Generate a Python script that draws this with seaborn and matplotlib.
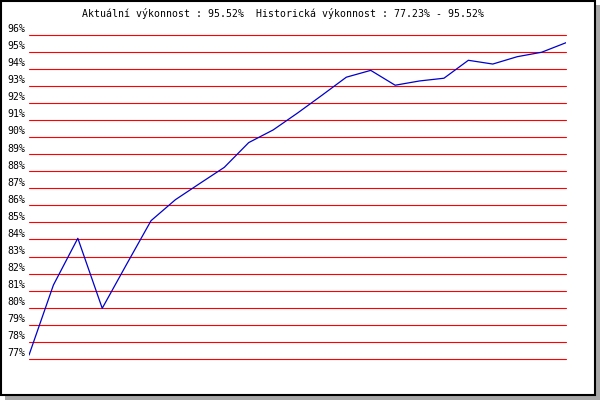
import matplotlib
matplotlib.use("Agg")
import matplotlib.pyplot as plt
import matplotlib.transforms as mtransforms
from matplotlib.patches import Rectangle
import seaborn as sns
import pandas as pd

title_text = "Aktuální výkonnost : 95.52%  Historická výkonnost : 77.23% - 95.52%"
performance = [77.23, 81.33, 84.07, 79.97, 82.55, 85.10, 86.33, 87.28, 88.22, 89.67,
               90.41, 91.40, 92.44, 93.50, 93.90, 93.03, 93.28, 93.44, 94.49, 94.27,
               94.70, 94.96, 95.52]
y_ticks = list(range(77, 97))
y_tick_labels = [f"{v}%" for v in y_ticks]

df = pd.DataFrame({"i": range(len(performance)), "v": performance})

sns.set_style("white")
plt.rcParams["font.family"] = ["DejaVu Sans Mono", "DejaVu Sans"]

fig = plt.figure(figsize=(6, 4), dpi=100)
fig.patch.set_facecolor("white")

W, H = 600.0, 400.0
# shadow
fig.add_artist(Rectangle((5 / W, 0), 595 / W, 395 / H, transform=fig.transFigure,
                         facecolor="#a8a8a8", edgecolor="none", zorder=-2))
# framed white box
fig.add_artist(Rectangle((1 / W, 5 / H), 594 / W, 394 / H, transform=fig.transFigure,
                         facecolor="white", edgecolor="black", linewidth=1.5, zorder=-1))

left, right = 29 / W, 566 / W
top, bottom = 1 - 34.5 / H, 1 - 359 / H
ax = fig.add_axes([left, bottom, right - left, top - bottom])
ax.set_facecolor("none")
ax.set_zorder(1)

sns.lineplot(data=df, x="i", y="v", ax=ax, color="#0000CC", linewidth=0.9, zorder=3)

ax.set_xlim(0, len(performance) - 1)
ax.set_ylim(77, 96)
ax.set_yticks(y_ticks)
ax.set_yticklabels(y_tick_labels, fontsize=7.1, color="black", va="baseline")
ax.set_xticks([])
ax.set_xlabel("")
ax.set_ylabel("")
for s in ax.spines.values():
    s.set_visible(False)
ax.tick_params(axis="y", length=0, pad=2.5)
ax.grid(axis="y", color="#FF0000", linewidth=0.8)
ax.set_axisbelow(True)
for gl in ax.get_ygridlines():
    gl.set_clip_on(False)

offset = mtransforms.ScaledTranslation(0, 2.5 / 100, fig.dpi_scale_trans)
for lab in ax.get_yticklabels():
    lab.set_transform(lab.get_transform() + offset)

fig.text(283.5 / W, 1 - 13.5 / H, title_text, ha="center", va="center",
         fontsize=7.1, color="black", zorder=2)

fig.savefig("out.png", dpi=100)
